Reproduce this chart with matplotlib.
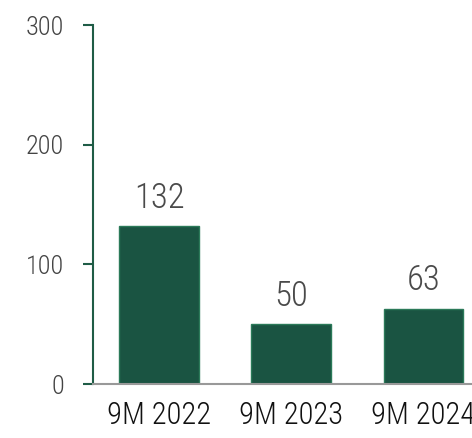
import matplotlib
matplotlib.use("Agg")
import matplotlib.pyplot as plt

categories = ["9M 2022", "9M 2023", "9M 2024"]
values = [132, 50, 63]
yticks = [0, 100, 200, 300]

plt.rcParams['font.family'] = ['Roboto Condensed', 'DejaVu Sans']

fig = plt.figure(figsize=(4.72, 4.38), dpi=100)
ax = fig.add_axes([93/472, 54/438, (472-93)/472, (384-25)/438])
x = list(range(len(categories)))
ax.bar(x, values, width=0.6, color="#1a5442", edgecolor="#2b7a59", linewidth=1)
for xi, v in zip(x, values):
    ax.annotate(str(v), (xi, v), xytext=(0, 8), textcoords="offset points",
                ha="center", va="bottom", fontsize=25, color="#4a4a4a", fontweight=300)
ax.set_xlim(-0.5, 2.37)
ax.set_ylim(0, 300)
ax.set_yticks(yticks)
ax.set_yticklabels([str(t) for t in yticks], fontsize=19, color="#444444", fontweight=300)
ax.set_xticks(x)
ax.set_xticklabels(categories, fontsize=22, color="#111111", fontweight=300)
for s in ["top", "right"]:
    ax.spines[s].set_visible(False)
ax.spines["left"].set_color("#1f5c46")
ax.spines["left"].set_linewidth(1.5)
ax.spines["bottom"].set_color("#999999")
ax.spines["bottom"].set_linewidth(1.5)
ax.tick_params(axis="y", length=7, width=1.5, color="#1f5c46", pad=14)
ax.tick_params(axis="x", length=0, pad=12)
fig.savefig("out.png", dpi=100)
